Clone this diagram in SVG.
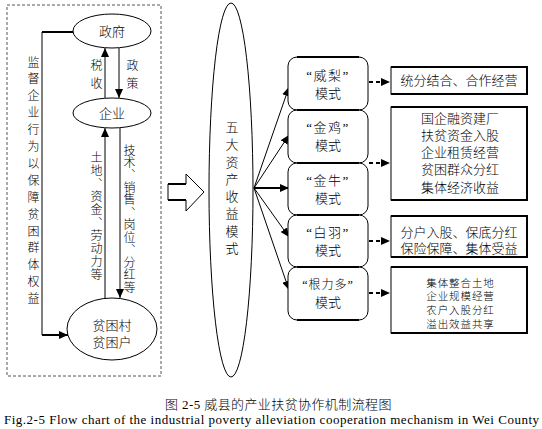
<svg xmlns="http://www.w3.org/2000/svg" width="542" height="429" viewBox="0 0 542 429">
<style>
  text { font-family: "Liberation Serif", "Noto Sans CJK SC", serif; fill: #000; font-weight: 300; }
  .c { text-anchor: middle; dominant-baseline: central; font-size: 13px; }
  .v { writing-mode: vertical-rl; font-size: 12px; }
  .thin { fill: none; stroke: #000; stroke-width: 1; }
  .thick { fill: none; stroke: #000; stroke-width: 2; }
  .node { fill: #fff; stroke: #000; stroke-width: 1; }
  .dash { fill: none; stroke: #000; stroke-width: 2; stroke-dasharray: 4 3; }
</style>
<defs>
  <marker id="ah" markerUnits="userSpaceOnUse" markerWidth="10" markerHeight="8" refX="9" refY="4" orient="auto">
    <path d="M0,0 L9,4 L0,8 Z" fill="#000"/>
  </marker>
</defs>
<rect width="542" height="429" fill="#fff"/>

<rect x="7" y="5" width="154" height="371" fill="none" stroke="#555" stroke-width="1" stroke-dasharray="3 2"/>

<g id="connectors">
  <polyline class="thin" points="73,32 42,32 42,335 60,335"/>
  <line class="thick" x1="42" y1="32" x2="73" y2="32"/>
  <line class="thick" x1="42" y1="335" x2="68" y2="335" marker-end="url(#ah)"/>
  <line class="thin" x1="105" y1="98" x2="105" y2="48" marker-end="url(#ah)"/>
  <line class="thin" x1="119" y1="48" x2="119" y2="98" marker-end="url(#ah)"/>
  <line class="thin" x1="105" y1="298" x2="105" y2="128" marker-end="url(#ah)"/>
  <line class="thin" x1="120" y1="128" x2="120" y2="298" marker-end="url(#ah)"/>
  <line class="thin" x1="254" y1="188" x2="289" y2="87" marker-end="url(#ah)"/>
  <line class="thin" x1="254" y1="188" x2="289" y2="135" marker-end="url(#ah)"/>
  <line class="thick" x1="254" y1="188" x2="289" y2="188" marker-end="url(#ah)"/>
  <line class="thin" x1="254" y1="188" x2="289" y2="237" marker-end="url(#ah)"/>
  <line class="thin" x1="254" y1="188" x2="289" y2="290" marker-end="url(#ah)"/>
  <line class="dash" x1="369" y1="82" x2="390" y2="82" marker-end="url(#ah)"/>
  <line class="dash" x1="369" y1="163" x2="390" y2="163" marker-end="url(#ah)"/>
  <line class="dash" x1="369" y1="241" x2="390" y2="241" marker-end="url(#ah)"/>
  <line class="dash" x1="369" y1="293" x2="390" y2="293" marker-end="url(#ah)"/>
</g>

<g id="label-jiandu"><text class="v" x="32" y="56" style="letter-spacing:4.9px">监督企业行为以保障贫困群体权益</text></g>
<g id="label-shuishou"><text class="v" x="95" y="59" style="letter-spacing:6px">税收</text></g>
<g id="label-zhengce"><text class="v" x="131" y="59" style="letter-spacing:6px">政策</text></g>
<g id="label-tudi"><text class="v" x="95" y="151" style="letter-spacing:1.1px">土地、资金、劳动力等</text></g>
<g id="label-jishu"><text class="v" x="128" y="144" style="letter-spacing:0.45px">技术、销售、岗位、分红等</text></g>

<g id="zhengfu">
  <ellipse class="node" cx="112" cy="31" rx="39" ry="17"/>
  <text class="c" x="112" y="31">政府</text>
</g>
<g id="qiye">
  <ellipse class="node" cx="112" cy="113" rx="39" ry="15"/>
  <text class="c" x="112" y="113">企业</text>
</g>
<g id="pinkun">
  <ellipse class="node" cx="112" cy="329" rx="45" ry="31"/>
  <text class="c" x="112" y="325">贫困村</text>
  <text class="c" x="112" y="342">贫困户</text>
</g>

<g id="big-arrow">
  <path d="M168,184 L186,184 L186,174 L204,192 L186,211 L186,200 L168,200 Z" fill="#fff" stroke="#000" stroke-width="1"/>
  <line class="thick" x1="168" y1="184" x2="186" y2="184"/>
  <line class="thick" x1="168" y1="200" x2="186" y2="200"/>
</g>

<g id="wuda">
  <ellipse class="node" cx="231" cy="190" rx="22" ry="187"/>
  <text class="v" x="231" y="120.5" style="font-size:13px;letter-spacing:4.3px">五大资产收益模式</text>
</g>

<g id="weili">
  <rect class="node" x="288" y="57" width="80" height="53" rx="9"/>
  <line class="thick" x1="297" y1="57" x2="359" y2="57"/>
  <text class="c" x="328" y="75" style="letter-spacing:1.5px">“威梨”</text>
  <text class="c" x="328" y="93">模式</text>
</g>
<g id="jinji">
  <rect class="node" x="288" y="110" width="80" height="53" rx="9"/>
  <line class="thick" x1="297" y1="110" x2="359" y2="110"/>
  <text class="c" x="328" y="127.5" style="letter-spacing:1.5px">“金鸡”</text>
  <text class="c" x="328" y="145.5">模式</text>
</g>
<g id="jinniu">
  <rect class="node" x="288" y="163" width="80" height="52" rx="9"/>
  <line class="thick" x1="297" y1="163" x2="359" y2="163"/>
  <text class="c" x="328" y="180" style="letter-spacing:1.5px">“金牛”</text>
  <text class="c" x="328" y="198">模式</text>
</g>
<g id="baiyu">
  <rect class="node" x="288" y="215" width="80" height="52" rx="9"/>
  <line class="thick" x1="297" y1="215" x2="359" y2="215"/>
  <text class="c" x="328" y="232" style="letter-spacing:1.5px">“白羽”</text>
  <text class="c" x="328" y="250">模式</text>
</g>
<g id="genliduo">
  <rect class="node" x="288" y="267" width="80" height="53" rx="9"/>
  <line class="thick" x1="297" y1="267" x2="359" y2="267"/>
  <line class="thick" x1="297" y1="320" x2="359" y2="320"/>
  <text class="c" x="328" y="285" style="font-size:12px;letter-spacing:1px">“根力多”</text>
  <text class="c" x="328" y="302">模式</text>
</g>

<g id="box-weili">
  <rect class="node" x="391" y="67" width="136" height="27"/>
  <path class="thick" d="M391,67 H527 V94 H391"/>
  <text class="c" x="459" y="80.5">统分结合、合作经营</text>
</g>
<g id="box-jinji">
  <rect class="node" x="391" y="107" width="136" height="93"/>
  <path class="thick" d="M391,107 H527 V200 H391"/>
  <text class="c" x="460" y="118">国企融资建厂</text>
  <text class="c" x="460" y="135.5">扶贫资金入股</text>
  <text class="c" x="460" y="152.5">企业租赁经营</text>
  <text class="c" x="460" y="169.5">贫困群众分红</text>
  <text class="c" x="460" y="187">集体经济收益</text>
</g>
<g id="box-baiyu">
  <rect class="node" x="391" y="216" width="136" height="41"/>
  <path class="thick" d="M391,216 H527 V257 H391"/>
  <text class="c" x="459" y="232">分户入股、保底分红</text>
  <text class="c" x="459" y="248">保险保障、集体受益</text>
</g>
<g id="box-genliduo">
  <rect class="node" x="391" y="267" width="136" height="66"/>
  <path class="thick" d="M391,267 H527 V333 H391"/>
  <text class="c" x="460.5" y="283" style="font-size:10.5px;letter-spacing:0.9px">集体整合土地</text>
  <text class="c" x="460.5" y="296.5" style="font-size:10.5px;letter-spacing:0.9px">企业规模经营</text>
  <text class="c" x="460.5" y="310.5" style="font-size:10.5px;letter-spacing:0.9px">农户入股分红</text>
  <text class="c" x="460.5" y="324" style="font-size:10.5px;letter-spacing:0.9px">溢出效益共享</text>
</g>

<g id="caption">
  <text x="165" y="409" style="font-size:13px;letter-spacing:0.4px">图 2-5  威县的产业扶贫协作机制流程图</text>
  <text x="4" y="424" style="font-size:13px;font-weight:400" textLength="535" lengthAdjust="spacing">Fig.2-5 Flow chart of the industrial poverty alleviation cooperation mechanism in Wei County</text>
</g>
</svg>
